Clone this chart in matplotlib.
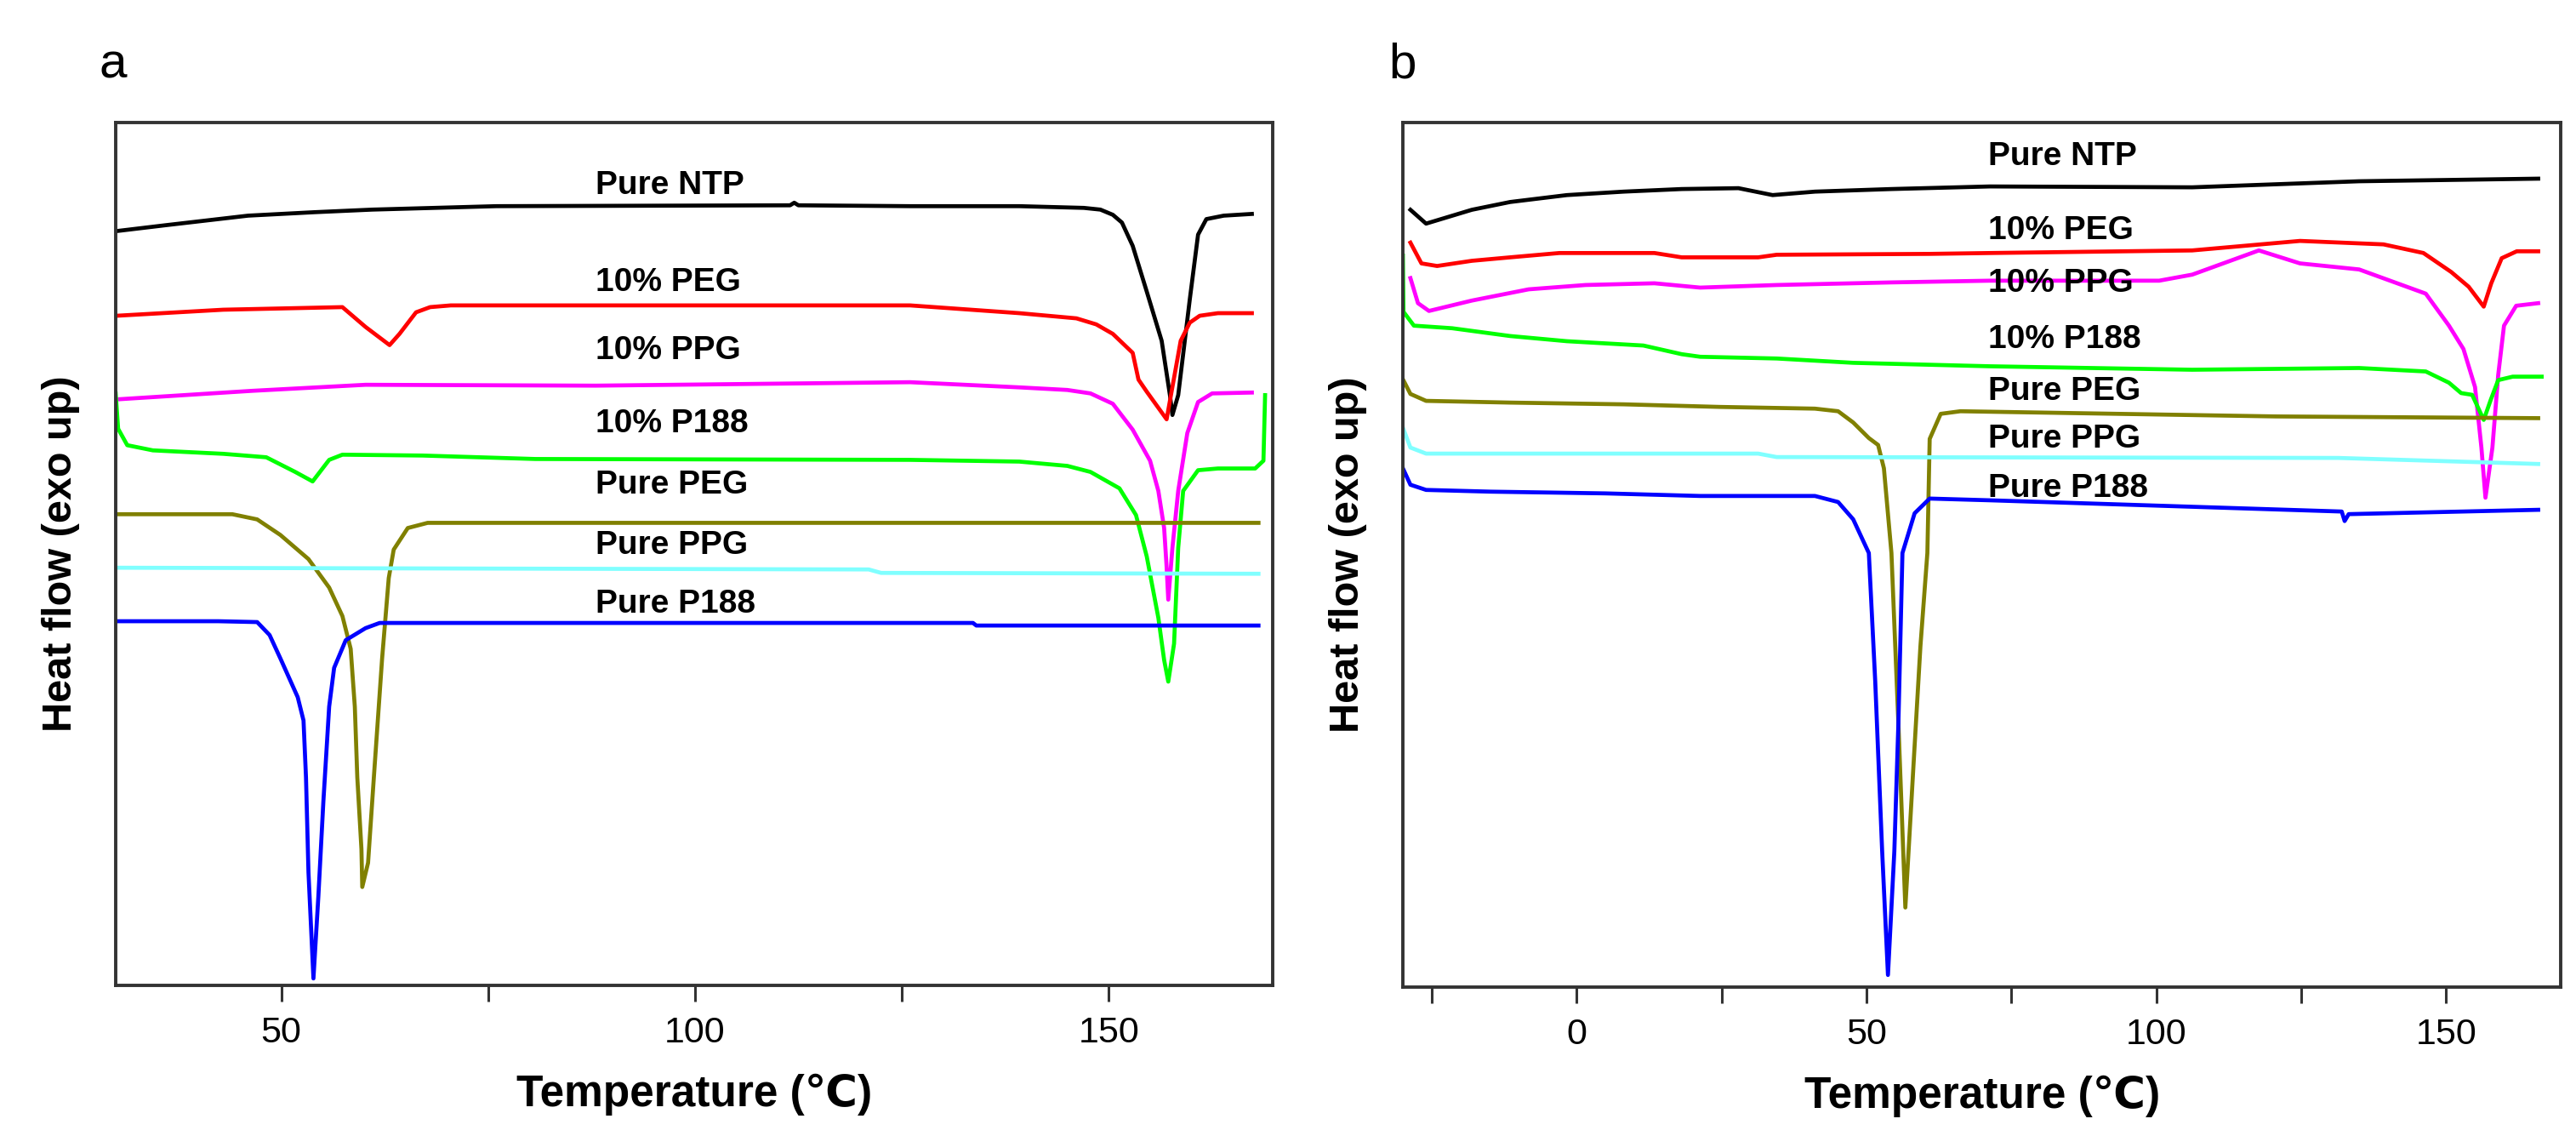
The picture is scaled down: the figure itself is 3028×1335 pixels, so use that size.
import matplotlib
matplotlib.use("Agg")
import matplotlib.pyplot as plt
from matplotlib.ticker import MultipleLocator, NullLocator

plt.rcParams["font.family"] = ["Liberation Sans", "DejaVu Sans"]

# nazivi uzoraka i boje krivih (isti redosled u oba panela)
SERIES = ["Pure NTP", "10% PEG", "10% PPG", "10% P188", "Pure PEG", "Pure PPG", "Pure P188"]
COLORS = ["#000000", "#ff0000", "#ff00ff", "#00ff00", "#808000", "#80ffff", "#0000ff"]

# panel a: temperatura (C) i toplotni tok (proizvoljne jedinice, exo gore)
A_NTP_T = [30, 36.1, 46.0, 54.0, 61.0, 76.0, 111.5, 112.0, 112.5, 126.0, 139.2, 147.0, 149.0, 150.5,
           151.6, 152.9, 154.6, 156.4, 157.4, 157.7, 158.4, 159.8, 160.8, 161.8, 163.9, 167.3]
A_NTP_HF = [87.4, 88.1, 89.2, 89.6, 89.9, 90.3, 90.4, 90.7, 90.4, 90.3, 90.3, 90.1, 89.9, 89.3,
            88.4, 85.7, 80.4, 74.7, 68.4, 66.1, 68.4, 79.5, 87.0, 88.8, 89.2, 89.4]
A_PEG10_T = [30.1, 43.0, 57.4, 60.2, 63.1, 64.3, 66.3, 68.0, 70.5, 126.0, 139.2, 146.1, 148.5, 150.5,
             152.9, 153.6, 154.6, 157.0, 158.7, 159.8, 161.0, 163.2, 167.3]
A_PEG10_HF = [77.6, 78.3, 78.6, 76.3, 74.2, 75.5, 78.0, 78.6, 78.8, 78.8, 77.9, 77.3, 76.6, 75.5,
              73.3, 70.2, 68.8, 65.6, 74.7, 76.8, 77.6, 77.9, 77.9]
A_PPG10_T = [30, 46.5, 60.2, 88.0, 126.0, 139.2, 145.0, 147.8, 150.5, 152.9, 155.0, 156.0, 156.7, 157.0,
             157.2, 157.7, 158.4, 159.5, 160.8, 162.5, 167.3]
A_PPG10_HF = [67.9, 68.9, 69.6, 69.5, 69.9, 69.3, 69.0, 68.6, 67.4, 64.4, 60.8, 57.3, 53.0, 48.5,
              44.7, 50.7, 57.3, 64.0, 67.6, 68.6, 68.7]
A_P18810_T = [30.0, 30.3, 31.4, 34.5, 43.0, 48.2, 51.7, 53.8, 55.8, 57.4, 67.1, 80.7, 126.0, 139.2,
              145.0, 147.8, 151.3, 153.3, 154.6, 156.0, 156.7, 157.2, 157.9, 158.4, 159.0, 160.8, 163.2,
              167.7, 168.7, 168.9]
A_P18810_HF = [68.6, 64.5, 62.6, 62.0, 61.6, 61.2, 59.5, 58.4, 60.9, 61.5, 61.4, 61.0, 60.9, 60.7,
               60.2, 59.5, 57.6, 54.5, 49.7, 42.6, 37.7, 35.2, 39.6, 50.7, 57.3, 59.7, 59.9,
               59.9, 60.8, 68.4]
A_PEG_T = [30.1, 44.1, 47.1, 49.9, 53.3, 55.8, 57.4, 58.4, 58.9, 59.2, 59.7, 59.8, 60.5, 61.2, 62.2,
           63.0, 63.6, 65.3, 67.7, 80.7, 168.1]
A_PEG_HF = [54.6, 54.6, 54.0, 52.2, 49.4, 46.1, 42.8, 39.0, 32.3, 24.1, 15.8, 11.4, 14.2, 24.1, 37.9,
            47.2, 50.5, 53.0, 53.6, 53.6, 53.6]
A_PPG_T = [30, 121.0, 122.5, 168.1]
A_PPG_HF = [48.4, 48.2, 47.8, 47.7]
A_P188_T = [30.1, 42.4, 47.1, 48.6, 49.9, 52.0, 52.7, 53.0, 53.3, 53.9, 54.5, 55.1, 55.8, 56.4, 57.8,
            60.2, 61.9, 133.6, 134.0, 168.1]
A_P188_HF = [42.2, 42.2, 42.1, 40.6, 37.9, 33.4, 30.7, 24.1, 13.1, 0.8, 10.4, 21.3, 32.3, 36.8, 40.0,
             41.4, 42.0, 42.0, 41.7, 41.7]

# panel b
B_NTP_T = [-28.7, -26.0, -18.1, -11.5, -1.7, 8.1, 18.1, 27.9, 33.8, 41.1, 54.3, 71.3, 106.2, 135.0, 165.9]
B_NTP_HF = [89.9, 88.3, 89.9, 90.8, 91.6, 92.0, 92.3, 92.4, 91.6, 92.0, 92.3, 92.6, 92.5, 93.2, 93.5]
B_PEG10_T = [-28.7, -26.8, -24.1, -18.1, -11.5, -3.0, 13.4, 18.1, 31.3, 34.5, 60.9, 71.3, 106.2, 124.8,
             139.2, 146.1, 150.9, 153.9, 156.5, 157.8, 159.6, 162.2, 165.9]
B_PEG10_HF = [86.1, 83.7, 83.4, 84.0, 84.4, 84.9, 84.9, 84.4, 84.4, 84.7, 84.8, 84.9, 85.2, 86.3,
              85.9, 84.9, 82.7, 81.0, 78.7, 81.4, 84.3, 85.1, 85.1]
B_PPG10_T = [-28.7, -27.4, -25.5, -18.1, -8.3, 1.5, 13.4, 21.3, 34.5, 54.3, 71.3, 100.5, 106.2, 117.7,
             124.8, 135.0, 146.5, 150.5, 153.0, 155.0, 156.1, 156.8, 158.0, 159.0, 160.0, 162.1, 165.9]
B_PPG10_HF = [82.0, 79.1, 78.2, 79.4, 80.7, 81.2, 81.4, 80.9, 81.2, 81.5, 81.7, 81.7, 82.4, 85.2,
              83.7, 83.0, 80.2, 76.5, 73.8, 69.4, 62.4, 56.6, 62.4, 70.8, 76.5, 78.8, 79.1]
B_P18810_T = [-30.0, -29.9, -28.1, -21.5, -11.5, -1.7, 11.5, 18.1, 21.3, 34.5, 47.7, 71.3, 106.2, 135.0,
              146.5, 150.5, 152.6, 154.5, 156.5, 157.7, 159.0, 161.5, 166.5]
B_P18810_HF = [84.6, 78.1, 76.5, 76.2, 75.3, 74.7, 74.2, 73.2, 72.9, 72.7, 72.2, 71.8, 71.4, 71.6,
               71.2, 69.9, 68.7, 68.5, 65.6, 67.9, 70.2, 70.6, 70.6]
B_PEG_T = [-30.0, -28.7, -26.0, -11.5, 8.1, 24.7, 41.1, 45.1, 47.7, 50.4, 52.0, 53.0, 54.3, 55.5, 56.7,
           58.1, 59.3, 60.5, 60.9, 62.8, 66.2, 120.6, 165.9]
B_PEG_HF = [70.3, 68.6, 67.8, 67.6, 67.4, 67.1, 66.9, 66.6, 65.3, 63.5, 62.7, 60.0, 50.2, 30.5, 9.2,
            25.6, 39.4, 50.2, 63.4, 66.3, 66.6, 66.0, 65.8]
B_PPG_T = [-30.0, -28.7, -26.0, 31.3, 34.5, 131.4, 165.9]
B_PPG_HF = [64.7, 62.4, 61.7, 61.7, 61.3, 61.2, 60.5]
B_P188_T = [-30.0, -28.7, -26.0, -14.9, 4.9, 21.3, 41.1, 45.1, 47.7, 50.4, 51.5, 52.7, 53.7, 54.8, 55.5,
            56.2, 58.3, 60.9, 71.3, 132.0, 132.5, 133.2, 165.9]
B_P188_HF = [60.0, 58.1, 57.5, 57.3, 57.1, 56.8, 56.8, 56.1, 54.1, 50.2, 35.4, 15.7, 1.4, 15.7, 30.5,
             50.2, 54.8, 56.5, 56.3, 55.0, 53.9, 54.7, 55.2]

A_CURVES = [(A_NTP_T, A_NTP_HF), (A_PEG10_T, A_PEG10_HF), (A_PPG10_T, A_PPG10_HF),
            (A_P18810_T, A_P18810_HF), (A_PEG_T, A_PEG_HF), (A_PPG_T, A_PPG_HF), (A_P188_T, A_P188_HF)]
B_CURVES = [(B_NTP_T, B_NTP_HF), (B_PEG10_T, B_PEG10_HF), (B_PPG10_T, B_PPG10_HF),
            (B_P18810_T, B_P18810_HF), (B_PEG_T, B_PEG_HF), (B_PPG_T, B_PPG_HF), (B_P188_T, B_P188_HF)]

# polozaj natpisa uz krive (x u C, y u jedinicama toka)
A_LABEL_X = 88
A_LABEL_Y = [92.7, 81.5, 73.6, 65.1, 58.0, 51.0, 44.2]
B_LABEL_X = 71
B_LABEL_Y = [96.1, 87.5, 81.4, 74.9, 68.9, 63.4, 57.7]

fig = plt.figure(figsize=(30.28, 13.35), dpi=100)
axa = fig.add_axes([0.0449, 0.1326, 0.4491, 0.7596])
axb = fig.add_axes([0.5446, 0.1311, 0.4495, 0.7611])


def draw(ax, curves, lab_x, lab_y, xlim, major):
    for (t, hf), col in zip(curves, COLORS):
        ax.plot(t, hf, color=col, lw=3.4, solid_joinstyle="round")
    for name, y in zip(SERIES, lab_y):
        ax.text(lab_x, y, name, fontsize=28, fontweight="bold", va="center", ha="left")
    ax.set_xlim(*xlim)
    ax.set_ylim(0, 100)
    ax.xaxis.set_major_locator(MultipleLocator(major))
    ax.xaxis.set_minor_locator(MultipleLocator(25))
    ax.yaxis.set_major_locator(NullLocator())
    ax.tick_params(axis="x", which="both", direction="out", length=14, width=2.2, color="#333333",
                   labelsize=31, pad=12)
    for s in ax.spines.values():
        s.set_linewidth(2.8)
        s.set_color("#333333")
    ax.set_xlabel("Temperature (\u2103)", fontsize=37, fontweight="bold", labelpad=20)
    ax.set_ylabel("Heat flow (exo up)", fontsize=35, fontweight="bold", labelpad=30)


draw(axa, A_CURVES, A_LABEL_X, A_LABEL_Y, (30, 169.8), 50)
draw(axb, B_CURVES, B_LABEL_X, B_LABEL_Y, (-30, 169.8), 50)

fig.text(0.0386, 1 - 92 / 1335, "a", fontsize=42, va="baseline", ha="left")
fig.text(0.539, 1 - 92 / 1335, "b", fontsize=42, va="baseline", ha="left")

fig.savefig("out.png", dpi=100)
